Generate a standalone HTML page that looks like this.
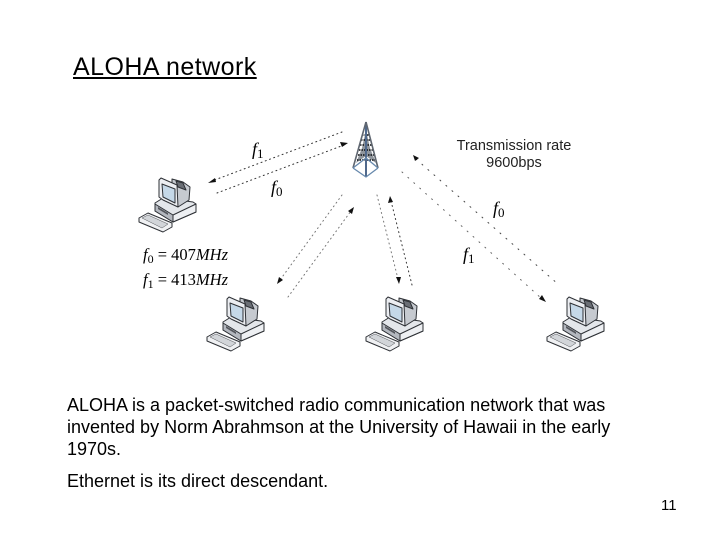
<!DOCTYPE html>
<html>
<head>
<meta charset="utf-8">
<style>
html,body{margin:0;padding:0;background:#fff}
#p{position:relative;width:720px;height:540px;overflow:hidden;background:#fff;font-family:"Liberation Sans",sans-serif;color:#000}
.t{position:absolute;white-space:nowrap}
svg{position:absolute;left:0;top:0}
</style>
</head>
<body>
<div id="p">
<svg width="720" height="540" viewBox="0 0 720 540">
<defs>
<g id="pc" stroke="#2e3136" stroke-width="1" stroke-linejoin="round">
  <polygon points="25,38 33,33 63,37 66,39 66,47 43,57 25,46" fill="#e4e7eb"/>
  <polygon points="25,39 43,50 43,57 25,46" fill="#b4b8bf"/>
  <polygon points="43,50 66,39 66,47 43,57" fill="#eef0f3"/>
  <polygon points="42,14 53,17 60,22 59,35 48,42 42,30" fill="#c6cad0"/>
  <polygon points="46,16 53,18 56,25 48,22" fill="#6a6e75"/>
  <polygon points="29,15 31,13 47,20 48,42 33,35 29,32" fill="#eceef2"/>
  <polygon points="32,19 45,24 45,38 33,32" fill="#c5d8e8"/>
  <polygon points="28,42 38,48 38,50 28,44" fill="#55585e" stroke="none"/>
  <polygon points="9,53 18,48 42,58 42,62 33,67 9,57" fill="#f0f1f3"/>
  <polygon points="12,53 18,50 38,59 32,63" fill="#d2d5d9" stroke-width="0.4"/>
</g>
</defs>
<g>
  <use href="#pc" transform="translate(130,165)"/>
  <use href="#pc" transform="translate(198,284)"/>
  <use href="#pc" transform="translate(357,284)"/>
  <use href="#pc" transform="translate(538,284)"/>
</g>

<polygon points="366,130 362,148 356,163 366,156 376,163 370,148" fill="#8f959c"/>
<g stroke="#0d0f12" stroke-width="1.5" stroke-dasharray="1.5 1" fill="none">
  <path d="M362 135H370M361 140H371M360 145H372M359 150H373M358 155H374M357 160H375"/>
</g>
<path d="M366 122V177" stroke="#50698c" stroke-width="2"/>
<path d="M366 122L353 168M366 122L378 168" stroke="#5f6670" stroke-width="1.6" fill="none"/>
<path d="M353 168L366 158L378 168M353 168L366 177L378 168" stroke="#6688ac" stroke-width="1.3" fill="none"/>

<g fill="none" stroke-linecap="round" stroke-width="1">
  <path d="M342 132L212 181" stroke="#333" stroke-dasharray="1 3.5"/>
  <path d="M217 193L344 145" stroke="#333" stroke-dasharray="1 3.5"/>
  <path d="M342 195L280 280" stroke="#777" stroke-dasharray="1 3.5"/>
  <path d="M288 297L351 211" stroke="#777" stroke-dasharray="1 3.5"/>
  <path d="M377 195L398 279" stroke="#777" stroke-dasharray="1 3.5"/>
  <path d="M412 285L391 201" stroke="#333" stroke-dasharray="1 3.5"/>
  <path d="M416 159L559 285" stroke="#444" stroke-dasharray="1 7"/>
  <path d="M402 172L542 299" stroke="#666" stroke-dasharray="1 7"/>
</g>
<g fill="#111">
  <polygon points="208,183 215,178 216,182"/>
  <polygon points="348,143 340,142 342,147"/>
  <polygon points="277,284 279,277 283,280"/>
  <polygon points="354,207 348,211 352,214"/>
  <polygon points="399,284 396,277 401,277"/>
  <polygon points="390,196 388,203 393,202"/>
  <polygon points="413,155 415,161 419,158"/>
  <polygon points="546,302 539,299 542,295"/>
</g>
</svg>

<div class="t" style="left:73px;top:52px;font-size:25px;line-height:30px;letter-spacing:.45px;text-decoration:underline">ALOHA network</div>
<div class="t" style="left:447px;top:138px;width:134px;text-align:center;font-size:14.5px;line-height:17px;color:#222">Transmission rate<br>9600bps</div>

<div class="t" style="left:252px;top:139px;font:italic 18px/20px 'Liberation Serif',serif">f<span style="font-style:normal;font-size:13px;position:relative;top:3px">1</span></div>
<div class="t" style="left:271px;top:177px;font:italic 18px/20px 'Liberation Serif',serif">f<span style="font-style:normal;font-size:13px;position:relative;top:3px">0</span></div>
<div class="t" style="left:493px;top:198px;font:italic 18px/20px 'Liberation Serif',serif">f<span style="font-style:normal;font-size:13px;position:relative;top:3px">0</span></div>
<div class="t" style="left:463px;top:244px;font:italic 18px/20px 'Liberation Serif',serif">f<span style="font-style:normal;font-size:13px;position:relative;top:3px">1</span></div>

<div class="t" style="left:143px;top:245px;font:16.5px/20px 'Liberation Serif',serif"><i>f</i><span style="font-size:12px;position:relative;top:3px">0</span> = 407<i>MHz</i></div>
<div class="t" style="left:143px;top:270px;font:16.5px/20px 'Liberation Serif',serif"><i>f</i><span style="font-size:12px;position:relative;top:3px">1</span> = 413<i>MHz</i></div>

<div class="t" style="left:67px;top:394px;font-size:18px;line-height:22px">ALOHA is a packet-switched radio communication network that was<br>invented by Norm Abrahmson at the University of Hawaii in the early<br>1970s.</div>
<div class="t" style="left:67px;top:470px;font-size:18px;line-height:22px">Ethernet is its direct descendant.</div>
<div class="t" style="left:661px;top:497px;font-size:15px;line-height:17px">11</div>
</div>
</body>
</html>
